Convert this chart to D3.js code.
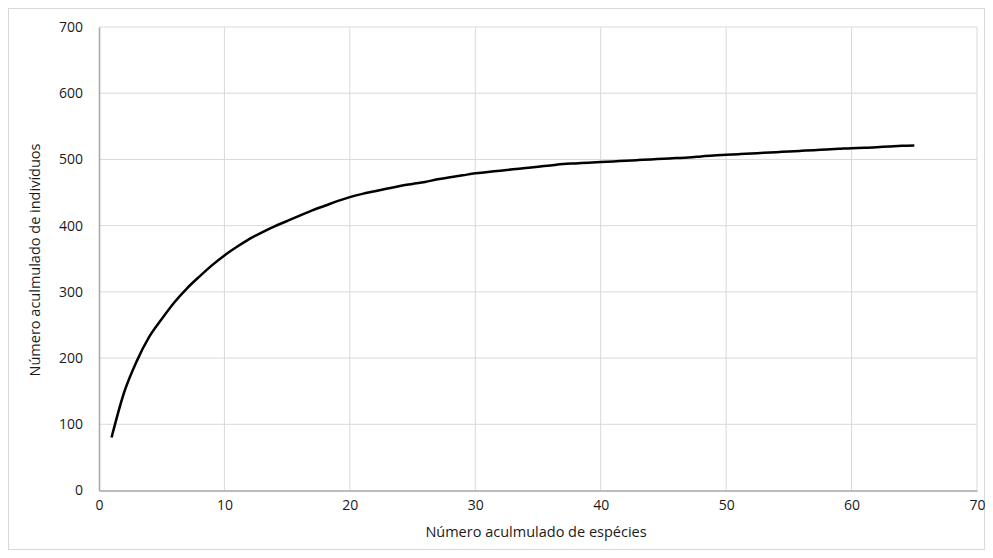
<!DOCTYPE html>
<html>
<head>
<meta charset="utf-8">
<script src="https://cdn.jsdelivr.net/npm/d3@7"></script>
<style>
  body { margin: 0; background: #fff; }
  text { font-family: "Open Sans", "Liberation Sans", sans-serif; fill: #404040; }
</style>
</head>
<body>
<svg width="993" height="558"></svg>
<script>
// especies acumuladas (eixo x) e individuos acumulados (eixo y)
var especies = d3.range(1, 66)
var individuos = [
  80, 148, 195, 232, 259, 284, 305, 323, 340, 355,
  368, 380, 390, 399, 407, 415, 423, 430, 437, 443,
  448, 452, 456, 460, 463, 466, 470, 473, 476, 479,
  481, 483, 485, 487, 489, 491, 493, 494, 495, 496,
  497, 498, 499, 500, 501, 502, 503, 504.5, 506, 507,
  508, 509, 510, 511, 512, 513, 514, 515, 516, 517,
  517.5, 518.5, 519.5, 520.5, 521
]
var xTicks = [0, 10, 20, 30, 40, 50, 60, 70]
var yTicks = [0, 100, 200, 300, 400, 500, 600, 700]
var xTitle = 'Número aculmulado de espécies'
var yTitle = 'Número aculmulado de indivíduos'

;(function (d3) {
  var svg = d3.select('svg')

  var left = 99
  var right = 977
  var top = 27
  var bottom = 490.5

  svg.append('rect')
    .attr('x', 8.5).attr('y', 8.5)
    .attr('width', 976).attr('height', 541)
    .style('fill', 'none')
    .style('stroke', '#d9d9d9')

  var x = d3.scaleLinear().domain([0, 70]).range([left, right])
  var y = d3.scaleLinear().domain([0, 700]).range([bottom, top])

  // grade
  svg.append('g')
    .selectAll('line.v')
    .data(xTicks.slice(1))
    .enter()
    .append('line')
    .attr('x1', function (d) { return x(d) })
    .attr('x2', function (d) { return x(d) })
    .attr('y1', top)
    .attr('y2', bottom)
    .style('stroke', '#d9d9d9')
    .style('stroke-width', 1)

  svg.append('g')
    .selectAll('line.h')
    .data(yTicks.slice(1))
    .enter()
    .append('line')
    .attr('x1', left)
    .attr('x2', right)
    .attr('y1', function (d) { return y(d) })
    .attr('y2', function (d) { return y(d) })
    .style('stroke', '#d9d9d9')
    .style('stroke-width', 1)

  var xAxis = svg.append('g')
    .attr('transform', 'translate(0,' + bottom + ')')
    .call(d3.axisBottom(x).tickValues(xTicks).tickSize(0).tickPadding(10))
  var yAxis = svg.append('g')
    .attr('transform', 'translate(' + left + ',0)')
    .call(d3.axisLeft(y).tickValues(yTicks).tickSize(0).tickPadding(16))

  ;[xAxis, yAxis].forEach(function (g) {
    g.select('.domain').style('stroke', '#a6a6a6').style('stroke-width', 1.5)
    g.selectAll('text')
      .style('font-size', '14px')
      .style('fill', '#1a1a1a')
      .style('font-family', '"Open Sans", sans-serif')
  })

  var ln = d3.line()
    .x(function (d, i) { return x(especies[i]) })
    .y(function (d) { return y(d) })
    .curve(d3.curveMonotoneX)

  svg.append('path')
    .datum(individuos)
    .attr('d', ln)
    .style('fill', 'none')
    .style('stroke', '#000')
    .style('stroke-width', 2.5)
    .style('stroke-linecap', 'butt')

  svg.append('text')
    .attr('x', 536)
    .attr('y', 537)
    .attr('text-anchor', 'middle')
    .style('font-size', '14.5px')
    .style('fill', '#1a1a1a')
    .text(xTitle)

  svg.append('text')
    .attr('transform', 'translate(40,' + 260 + ') rotate(-90)')
    .attr('text-anchor', 'middle')
    .style('font-size', '14.5px')
    .style('fill', '#1a1a1a')
    .text(yTitle)
})(window.d3)
</script>
</body>
</html>
